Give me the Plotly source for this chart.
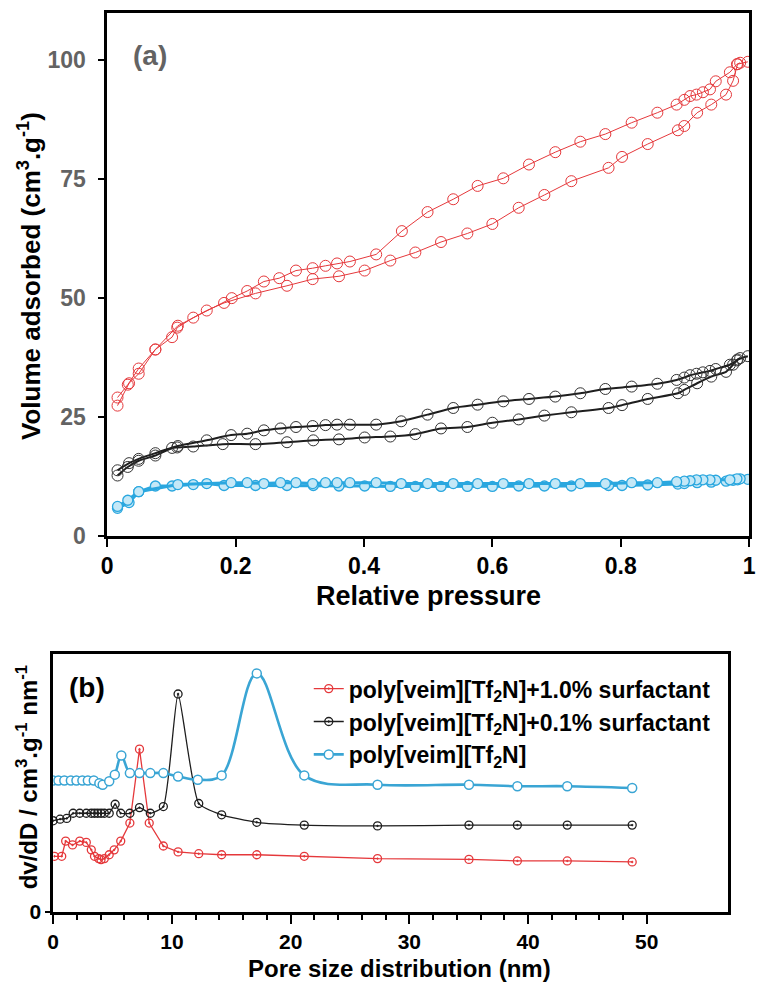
import plotly.graph_objects as go

# ---------------- Panel (a): N2 isotherms ----------------
red_ads_p = [0.016, 0.034, 0.049, 0.075, 0.101, 0.109, 0.134, 0.155, 0.182, 0.231, 0.280, 0.320, 0.361,
             0.401, 0.441, 0.480, 0.520, 0.561, 0.600, 0.641, 0.681, 0.723, 0.781, 0.802, 0.842, 0.889,
             0.899, 0.919, 0.941, 0.964, 0.975, 0.982, 0.998]
red_ads_v = [27.4, 32.1, 34.1, 39.2, 41.8, 43.8, 45.9, 47.4, 49.0, 51.0, 52.6, 54.0, 54.6,
             55.8, 57.9, 59.6, 61.8, 63.6, 65.6, 69.0, 71.7, 74.6, 77.4, 79.7, 82.4, 85.3,
             86.2, 89.0, 90.7, 92.8, 95.7, 99.2, 99.7]
red_des_p = [0.986, 0.981, 0.970, 0.948, 0.939, 0.928, 0.918, 0.908, 0.899, 0.887, 0.857, 0.817, 0.776,
             0.737, 0.698, 0.657, 0.617, 0.577, 0.539, 0.499, 0.459, 0.419, 0.378, 0.358, 0.340, 0.320,
             0.294, 0.268, 0.244, 0.218, 0.194, 0.110, 0.075, 0.049, 0.032, 0.016]
red_des_v = [99.5, 99.2, 97.5, 95.6, 93.9, 93.3, 92.8, 92.5, 91.7, 90.7, 89.0, 86.9, 84.5,
             82.9, 80.7, 78.1, 75.2, 73.6, 70.8, 68.1, 64.1, 59.2, 57.7, 57.3, 56.8, 56.3,
             55.8, 54.2, 53.5, 51.5, 50.0, 44.2, 39.2, 35.2, 31.8, 29.1]

blk_ads_p = [0.016, 0.032, 0.049, 0.075, 0.101, 0.109, 0.134, 0.180, 0.231, 0.280, 0.321, 0.361,
             0.401, 0.441, 0.480, 0.520, 0.561, 0.600, 0.641, 0.681, 0.723, 0.781, 0.802, 0.842,
             0.889, 0.899, 0.919, 0.941, 0.964, 0.975, 0.982, 0.998]
blk_ads_v = [12.7, 14.5, 15.8, 16.9, 18.5, 18.6, 18.8, 19.3, 19.3, 19.7, 20.1, 20.3,
             20.7, 20.9, 21.4, 22.6, 22.9, 23.8, 24.5, 25.3, 26.0, 26.9, 27.5, 28.8,
             30.0, 30.7, 32.1, 33.5, 34.5, 36.0, 37.1, 37.8]
blk_des_p = [0.986, 0.981, 0.970, 0.948, 0.939, 0.928, 0.918, 0.908, 0.899, 0.887, 0.857, 0.817,
             0.776, 0.737, 0.698, 0.657, 0.617, 0.577, 0.539, 0.499, 0.458, 0.419, 0.378, 0.358,
             0.340, 0.320, 0.294, 0.270, 0.244, 0.218, 0.193, 0.155, 0.110, 0.075, 0.049, 0.034, 0.016]
blk_des_v = [37.4, 36.9, 36.0, 35.1, 34.7, 34.4, 34.1, 33.8, 33.3, 32.8, 32.0, 31.4,
             30.9, 30.0, 29.3, 28.8, 28.3, 27.6, 26.9, 25.5, 24.1, 23.4, 23.4, 23.4,
             23.3, 23.1, 22.9, 22.6, 22.2, 21.5, 21.2, 20.1, 18.9, 17.4, 16.2, 15.3, 13.8]

blu_ads_p = [0.016, 0.034, 0.049, 0.075, 0.101, 0.134, 0.155, 0.182, 0.231, 0.280, 0.321, 0.361,
             0.401, 0.441, 0.480, 0.520, 0.561, 0.600, 0.641, 0.681, 0.723, 0.781, 0.802, 0.842,
             0.889, 0.899, 0.919, 0.941, 0.964, 0.975, 0.982, 0.998]
blu_ads_v = [5.8, 7.0, 9.3, 10.5, 10.5, 10.8, 11.0, 10.6, 10.6, 10.6, 10.6, 10.5,
             10.5, 10.4, 10.4, 10.4, 10.4, 10.4, 10.5, 10.5, 10.5, 10.6, 10.6, 10.7,
             10.9, 11.0, 11.2, 11.3, 11.5, 11.7, 11.8, 11.9]
blu_des_p = [0.986, 0.981, 0.970, 0.948, 0.939, 0.928, 0.918, 0.908, 0.899, 0.887, 0.857, 0.817,
             0.776, 0.737, 0.698, 0.657, 0.617, 0.577, 0.539, 0.499, 0.458, 0.419, 0.378, 0.358,
             0.340, 0.320, 0.294, 0.270, 0.244, 0.218, 0.193, 0.110, 0.049, 0.032, 0.016]
blu_des_v = [12.0, 12.0, 11.8, 11.7, 11.8, 11.8, 11.8, 11.6, 11.5, 11.4, 11.2, 11.2,
             11.0, 11.0, 11.0, 11.0, 11.0, 11.0, 11.0, 11.0, 11.0, 11.2, 11.2, 11.2,
             11.2, 11.0, 11.2, 11.2, 11.0, 11.2, 11.2, 10.8, 9.3, 7.5, 6.2]

a_xticks = [0, 0.2, 0.4, 0.6, 0.8, 1]
a_xticktext = ["0", "0.2", "0.4", "0.6", "0.8", "1"]
a_yticks = [0, 25, 50, 75, 100]

# ---------------- Panel (b): pore size distribution ----------------
series_names = ["poly[veim][Tf<sub>2</sub>N]+1.0% surfactant",
                "poly[veim][Tf<sub>2</sub>N]+0.1% surfactant",
                "poly[veim][Tf<sub>2</sub>N]"]
red_d = [0.11, 0.72, 1.05, 1.63, 2.24, 2.79, 3.21, 3.48, 3.84, 4.03, 4.31, 4.72, 5.14, 5.69, 6.46,
         7.27, 8.09, 9.28, 10.52, 12.26, 14.19, 17.15, 21.15, 27.32, 35.02, 39.1, 43.3, 48.77]
red_dv = [0.216, 0.216, 0.275, 0.26, 0.275, 0.27, 0.241, 0.216, 0.207, 0.203, 0.207, 0.222, 0.241,
          0.275, 0.345, 0.632, 0.345, 0.256, 0.233, 0.226, 0.222, 0.222, 0.216, 0.207, 0.204,
          0.198, 0.198, 0.194]
blk_d = [0.0, 0.58, 1.14, 1.68, 2.24, 2.79, 3.21, 3.48, 3.75, 4.03, 4.31, 4.72, 5.22, 5.69, 6.46,
         7.27, 8.18, 9.28, 10.52, 12.26, 14.19, 17.15, 21.15, 27.32, 35.02, 39.1, 43.3, 48.77]
blk_dv = [0.354, 0.360, 0.363, 0.383, 0.383, 0.383, 0.383, 0.383, 0.383, 0.383, 0.383, 0.383,
          0.418, 0.383, 0.383, 0.405, 0.383, 0.409, 0.846, 0.421, 0.377, 0.348, 0.337, 0.334,
          0.337, 0.337, 0.337, 0.337]
blu_d = [0.0, 0.44, 0.94, 1.49, 1.96, 2.46, 2.92, 3.42, 3.89, 4.17, 4.72, 5.19, 5.74, 6.46, 7.27,
         8.18, 9.28, 10.52, 12.18, 14.19, 17.15, 21.15, 27.32, 35.02, 39.1, 43.3, 48.77]
blu_dv = [0.51, 0.51, 0.51, 0.51, 0.51, 0.51, 0.51, 0.51, 0.50, 0.494, 0.507, 0.533, 0.607, 0.539,
          0.539, 0.539, 0.539, 0.526, 0.513, 0.530, 0.926, 0.530, 0.494, 0.494, 0.488, 0.488, 0.481]
b_xticks = [0, 10, 20, 30, 40, 50]
b_minor = [2, 4, 6, 8, 12, 14, 16, 18, 22, 24, 26, 28, 32, 34, 36, 38, 42, 44, 46, 48]

RED = "#e5383b"
BLK = "#1e1e1e"
BLU = "#2aa7df"
BLU2 = "#3aa5d4"
FONT = "Arial, Liberation Sans, sans-serif"

fig = go.Figure()

# panel (a) traces
for p, v in [(red_ads_p, red_ads_v), (red_des_p, red_des_v)]:
    fig.add_trace(go.Scatter(x=p, y=v, xaxis="x", yaxis="y", mode="lines+markers", showlegend=False,
                             line=dict(color=RED, width=1),
                             marker=dict(symbol="circle-open", size=11, color=RED, line=dict(width=1))))
for p, v in [(blk_ads_p, blk_ads_v), (blk_des_p, blk_des_v)]:
    fig.add_trace(go.Scatter(x=p, y=v, xaxis="x", yaxis="y", mode="lines+markers", showlegend=False,
                             line=dict(color=BLK, width=2, shape="spline", smoothing=0.6),
                             marker=dict(symbol="circle-open", size=11, color="#333333", line=dict(width=1))))
for p, v in [(blu_ads_p, blu_ads_v), (blu_des_p, blu_des_v)]:
    fig.add_trace(go.Scatter(x=p, y=v, xaxis="x", yaxis="y", mode="lines+markers", showlegend=False,
                             line=dict(color=BLU, width=3),
                             marker=dict(symbol="circle", size=10, color="#c4e8f7",
                                         line=dict(color=BLU, width=1.3))))

# panel (b) traces
fig.add_trace(go.Scatter(x=red_d, y=red_dv, xaxis="x2", yaxis="y2", mode="lines+markers",
                         name=series_names[0], line=dict(color=RED, width=1.3),
                         marker=dict(symbol="circle-open-dot", size=8, color=RED, line=dict(width=1.3))))
fig.add_trace(go.Scatter(x=blk_d, y=blk_dv, xaxis="x2", yaxis="y2", mode="lines+markers",
                         name=series_names[1], line=dict(color=BLK, width=1.3, shape="spline", smoothing=0.5),
                         marker=dict(symbol="circle-open-dot", size=8, color=BLK, line=dict(width=1.3))))
fig.add_trace(go.Scatter(x=blu_d, y=blu_dv, xaxis="x2", yaxis="y2", mode="lines+markers",
                         name=series_names[2], line=dict(color=BLU2, width=2.6, shape="spline", smoothing=1),
                         marker=dict(symbol="circle", size=9, color="white", line=dict(color=BLU2, width=1.5))))

W, H = 764, 995
def px(x):
    return x / W
def py(y):
    return 1 - y / H

axis_common = dict(showline=True, linecolor="black", linewidth=2.5, mirror=True, showgrid=False,
                   zeroline=False, ticks="outside", tickcolor="black", tickwidth=2)

def label(text, x, y, size, color="black", angle=0):
    return dict(text=text, x=px(x), y=py(y), xref="paper", yref="paper", showarrow=False,
                xanchor="center", yanchor="middle", textangle=angle,
                font=dict(size=size, weight="bold", color=color))

fig.update_layout(
    width=W, height=H, margin=dict(l=0, r=0, t=0, b=0),
    paper_bgcolor="white", plot_bgcolor="white",
    font=dict(family=FONT, color="black"),
    xaxis=dict(domain=[px(103), px(756)], anchor="y", range=[0, 1], tickvals=a_xticks,
               ticktext=a_xticktext, ticklen=8, tickfont=dict(size=23, weight="bold", color="black"),
               **axis_common),
    yaxis=dict(domain=[py(543), py(13)], anchor="x", range=[0, 110], tickvals=a_yticks, ticklen=6,
               tickfont=dict(size=23, weight="bold", color="#636363"), ticklabelstandoff=8, **axis_common),
    xaxis2=dict(domain=[px(48), px(734)], anchor="y2", range=[0, 56.8], tickvals=b_xticks, ticklen=9,
                tickfont=dict(size=21, weight="bold", color="black"),
                minor=dict(tickvals=b_minor, ticklen=5, tickcolor="black", tickwidth=1.5, ticks="outside"),
                **axis_common),
    yaxis2=dict(domain=[py(924), py(663)], anchor="x2", range=[0, 1], tickvals=[0], ticktext=["0"],
                ticklen=5, tickfont=dict(size=21, weight="bold", color="black"), **axis_common),
    legend=dict(x=px(308), y=py(676), xanchor="left", yanchor="top", bgcolor="rgba(0,0,0,0)",
                font=dict(size=23, weight="bold", color="black"), itemwidth=30, tracegroupgap=0),
    annotations=[
        label("(a)", 147, 56, 28, "#636363"),
        label("(b)", 82, 697, 28),
        label("Relative pressure", 430, 604, 27),
        label("Volume adsorbed (cm<sup>3</sup>.g<sup>-1</sup>)", 24, 280, 26, angle=-90),
        label("Pore size distribution (nm)", 400, 981, 24),
        label("dv/dD / cm<sup>3</sup>.g<sup>-1</sup> nm<sup>-1</sup>", 21, 787, 24, angle=-90),
    ],
)

fig.write_html("out.html")
